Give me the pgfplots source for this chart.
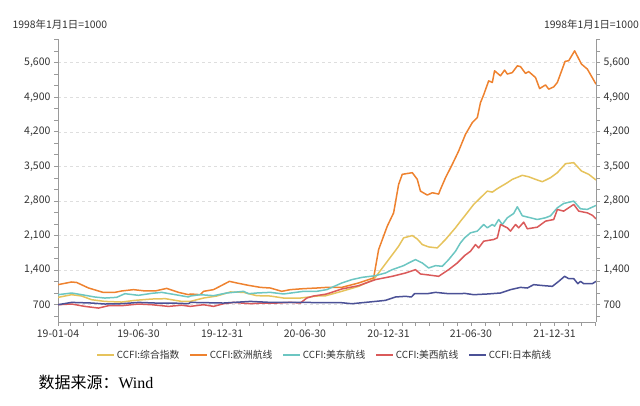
\documentclass[border=0pt]{standalone}
\usepackage{pgfplots}
\pgfplotsset{compat=1.18}
\usepackage{fontspec}
\setmainfont{Noto Sans CJK SC}
\newfontfamily\wordfont{Liberation Serif}
\definecolor{cyel}{HTML}{E6C35C}
\definecolor{cora}{HTML}{EE822F}
\definecolor{ctea}{HTML}{6CC6C2}
\definecolor{cred}{HTML}{DA5A5A}
\definecolor{cblu}{HTML}{4B5196}
\definecolor{axgrey}{HTML}{9A9A9A}
\definecolor{txt}{HTML}{333333}
\begin{document}
\begin{tikzpicture}
\path[use as bounding box] (0,0) rectangle (640pt,406pt);
\pgfplotsset{
  common/.style={
    at={(58pt,84pt)}, anchor=south west,
    width=538pt, height=283pt, scale only axis,
    xmin=0, xmax=1183, ymin=350, ymax=6080,
    axis line style={axgrey, line width=0.9pt},
    tick style={axgrey, line width=0.8pt},
    tick align=outside,
    major tick length=4pt, minor tick length=4pt,
    ytick={700,1400,2100,2800,3500,4200,4900,5600},
    minor ytick={466.667,700,...,6080},
    /pgf/number format/assume math mode=true,
    yticklabel style={font=\fontsize{10.5}{12}\selectfont, text=txt, /pgf/number format/.cd, fixed, precision=0, 1000 sep={,}},
  }
}
\begin{axis}[common,
  axis y line*=left, axis x line*=bottom,
  xtick={0,177,361,543,727,908,1092},
  xticklabels={19-01-04,19-06-30,19-12-31,20-06-30,20-12-31,21-06-30,21-12-31},
  minor xtick={27,55,86,116,147,208,239,269,300,330,392,421,452,482,513,574,605,635,666,696,758,786,817,847,878,939,970,1000,1031,1061,1123,1151,1182},
  xticklabel style={font=\fontsize{10.5}{12}\selectfont, text=txt},
  ymajorgrids, grid style={dashed, draw=black!13, line width=0.6pt},
  legend columns=5,
  legend style={draw=none, fill=none, at={(0.496,-0.117)}, anchor=center,
    font=\fontsize{9.8}{11}\selectfont, text=txt,
    /tikz/every even column/.append style={column sep=8pt}},
  every axis plot/.append style={line width=1.5pt, line join=round, no markers},
]
\addplot[cyel] coordinates {
(0,848)(30,903)(52,876)(74,801)(103,767)(140,754)(169,788)(206,815)(236,822)(272,767)(291,767)(320,835)(349,876)(379,958)(408,950)(437,883)(467,876)(496,835)(533,835)(569,876)(588,880)(624,971)(661,1072)(694,1208)(727,1613)(749,1884)(760,2053)(779,2100)(790,2030)(801,1918)(815,1870)(834,1850)(852,2020)(874,2257)(885,2390)(894,2493)(914,2730)(944,3000)(955,2980)(966,3050)(988,3170)(999,3238)(1021,3320)(1035,3290)(1050,3238)(1065,3190)(1083,3272)(1098,3373)(1116,3556)(1134,3576)(1151,3407)(1167,3340)(1183,3225)
};
\addlegendentry{CCFI:综合指数}
\addplot[cora] coordinates {
(0,1106)(30,1160)(41,1150)(67,1039)(99,950)(125,950)(140,978)(166,1005)(192,978)(214,978)(239,1031)(265,950)(287,903)(291,917)(313,903)(320,971)(342,1005)(377,1173)(393,1140)(419,1092)(445,1051)(467,1038)(492,971)(511,1005)(540,1025)(569,1038)(591,1051)(624,1051)(661,1140)(694,1241)(705,1816)(724,2290)(738,2560)(749,3136)(757,3340)(779,3373)(790,3238)(797,3000)(812,2920)(823,2967)(837,2940)(841,3035)(852,3270)(867,3542)(881,3812)(896,4150)(911,4387)(922,4488)(929,4792)(936,4950)(947,5232)(955,5200)(960,5436)(973,5334)(982,5450)(988,5370)(999,5400)(1010,5537)(1017,5520)(1028,5383)(1035,5420)(1050,5300)(1059,5076)(1072,5150)(1079,5064)(1090,5110)(1098,5200)(1115,5627)(1123,5640)(1136,5840)(1151,5572)(1164,5470)(1183,5166)
};
\addlegendentry{CCFI:欧洲航线}
\addplot[ctea] coordinates {
(0,903)(30,937)(52,903)(81,856)(103,835)(129,849)(147,923)(177,890)(206,930)(228,950)(258,903)(287,856)(291,876)(313,903)(342,883)(371,937)(408,971)(419,923)(437,937)(467,950)(496,917)(540,971)(569,971)(591,1005)(624,1140)(646,1208)(669,1254)(698,1288)(720,1342)(735,1410)(760,1491)(771,1545)(786,1613)(801,1545)(815,1444)(830,1491)(845,1478)(859,1613)(874,1782)(885,1952)(894,2053)(907,2155)(922,2190)(936,2324)(944,2257)(955,2324)(960,2290)(969,2425)(977,2324)(988,2460)(1002,2547)(1010,2683)(1021,2500)(1039,2460)(1054,2425)(1072,2460)(1083,2500)(1098,2662)(1112,2750)(1134,2797)(1149,2641)(1164,2630)(1183,2710)
};
\addlegendentry{CCFI:美东航线}
\addplot[cred] coordinates {
(0,700)(30,714)(59,666)(89,632)(111,680)(140,680)(177,714)(206,700)(243,666)(272,690)(291,666)(320,700)(342,666)(364,720)(386,747)(423,720)(452,734)(481,734)(511,747)(533,734)(547,835)(562,876)(590,915)(624,1018)(661,1086)(698,1208)(735,1275)(764,1342)(786,1410)(797,1322)(815,1302)(837,1275)(859,1410)(878,1545)(894,1694)(907,1782)(918,1918)(925,1850)(936,1986)(958,2020)(966,2053)(973,2324)(988,2257)(995,2190)(1006,2324)(1013,2257)(1024,2371)(1032,2237)(1054,2270)(1072,2392)(1090,2425)(1098,2628)(1112,2595)(1134,2730)(1145,2595)(1164,2560)(1175,2510)(1183,2439)
};
\addlegendentry{CCFI:美西航线}
\addplot[cblu] coordinates {
(0,700)(30,747)(74,734)(103,714)(140,720)(177,747)(214,734)(250,734)(287,720)(291,747)(364,734)(423,767)(467,747)(540,747)(590,740)(624,740)(646,720)(698,767)(720,788)(742,856)(764,870)(777,856)(784,923)(812,923)(830,950)(859,923)(885,923)(894,930)(914,903)(944,917)(973,937)(995,1005)(1017,1051)(1032,1038)(1046,1106)(1068,1086)(1087,1072)(1101,1173)(1114,1275)(1123,1228)(1134,1228)(1143,1126)(1149,1173)(1156,1126)(1175,1126)(1183,1173)
};
\addlegendentry{CCFI:日本航线}
\end{axis}
\begin{axis}[common,
  axis y line*=right, axis x line=none,
  yticklabel pos=right,
]
\addplot[draw=none] coordinates {(0,700)};
\end{axis}
\node[anchor=west, text=txt, font=\fontsize{10.4}{12}\selectfont] at (9pt,381pt) {1998年1月1日=1000};
\node[anchor=east, text=txt, font=\fontsize{10.4}{12}\selectfont, inner xsep=1pt] at (640pt,381pt) {1998年1月1日=1000};
\node[anchor=west, text=black, font=\fontsize{16}{18}\selectfont] at (35pt,24pt) {数据来源：{\wordfont Wind}};
\end{tikzpicture}
\end{document}
